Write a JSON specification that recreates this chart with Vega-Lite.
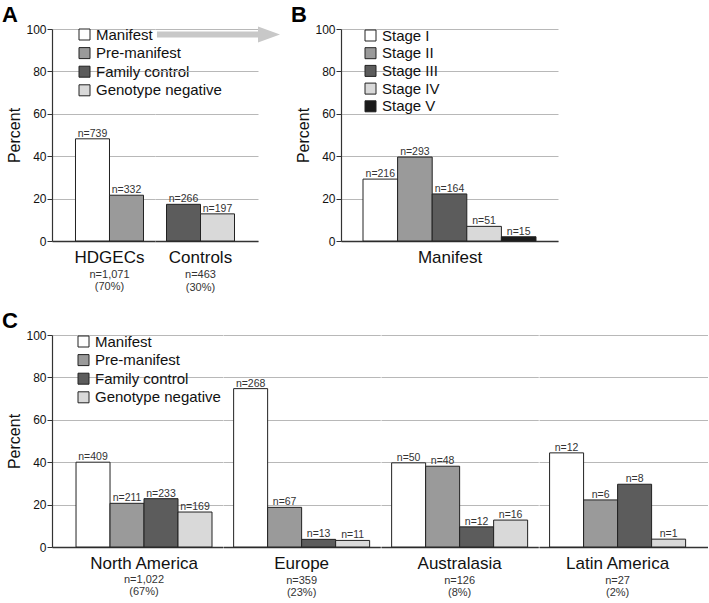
{
  "$schema": "https://vega.github.io/schema/vega-lite/v6.json",
  "padding": {"left": 2, "top": 4, "right": 0, "bottom": 0},
  "background": "white",
  "config": {
    "view": {"stroke": null},
    "font": "Liberation Sans",
    "axisY": {"tickSize": 5, "labelPadding": 1, "labelFontSize": 12, "labelColor": "#111", "titleFontSize": 16, "titleFontWeight": "normal", "titleColor": "#111", "titlePadding": 3, "grid": true, "gridColor": "#b8b8b8", "gridWidth": 1, "domainColor": "#333", "domainWidth": 1.2, "tickColor": "#333"},
    "axisX": {"ticks": false, "labels": false, "labelAngle": 0, "domainColor": "#333", "domainWidth": 1.5, "grid": false, "titleFontSize": 17, "titleFontWeight": "normal", "titleColor": "#111", "titlePadding": 8},
    "legend": {"orient": "none", "padding": 0, "symbolType": "square", "symbolSize": 121, "symbolStrokeColor": "#222", "symbolStrokeWidth": 1, "labelFontSize": 15, "labelColor": "#111", "labelOffset": 4},
    "title": {"fontSize": 22, "fontWeight": "bold", "anchor": "start", "frame": "group", "dx": -50, "offset": -4, "color": "#000"}
  },
  "datasets": {
    "panelA": [
      {"group": "HDGECs", "type": "Manifest", "pct": 48.2, "n": "n=739"},
      {"group": "HDGECs", "type": "Pre-manifest", "pct": 21.6, "n": "n=332"},
      {"group": "Controls", "type": "Family control", "pct": 17.3, "n": "n=266"},
      {"group": "Controls", "type": "Genotype negative", "pct": 12.8, "n": "n=197"}
    ],
    "arrow": [
      {"x0": 0.019, "x1": 1.0, "xh": 1.107, "pct": 97.4}
    ],
    "panelB": [
      {"stage": "Stage I", "pct": 29.2, "n": "n=216"},
      {"stage": "Stage II", "pct": 39.6, "n": "n=293"},
      {"stage": "Stage III", "pct": 22.2, "n": "n=164"},
      {"stage": "Stage IV", "pct": 6.9, "n": "n=51"},
      {"stage": "Stage V", "pct": 2.0, "n": "n=15"}
    ],
    "panelC": [
      {"region": "North America", "type": "Manifest", "pct": 40.0, "n": "n=409"},
      {"region": "North America", "type": "Pre-manifest", "pct": 20.6, "n": "n=211"},
      {"region": "North America", "type": "Family control", "pct": 22.8, "n": "n=233"},
      {"region": "North America", "type": "Genotype negative", "pct": 16.5, "n": "n=169"},
      {"region": "Europe", "type": "Manifest", "pct": 74.7, "n": "n=268"},
      {"region": "Europe", "type": "Pre-manifest", "pct": 18.7, "n": "n=67"},
      {"region": "Europe", "type": "Family control", "pct": 3.6, "n": "n=13"},
      {"region": "Europe", "type": "Genotype negative", "pct": 3.1, "n": "n=11"},
      {"region": "Australasia", "type": "Manifest", "pct": 39.7, "n": "n=50"},
      {"region": "Australasia", "type": "Pre-manifest", "pct": 38.1, "n": "n=48"},
      {"region": "Australasia", "type": "Family control", "pct": 9.5, "n": "n=12"},
      {"region": "Australasia", "type": "Genotype negative", "pct": 12.7, "n": "n=16"},
      {"region": "Latin America", "type": "Manifest", "pct": 44.4, "n": "n=12"},
      {"region": "Latin America", "type": "Pre-manifest", "pct": 22.2, "n": "n=6"},
      {"region": "Latin America", "type": "Family control", "pct": 29.6, "n": "n=8"},
      {"region": "Latin America", "type": "Genotype negative", "pct": 3.7, "n": "n=1"}
    ]
  },
  "spacing": 17,
  "resolve": {"scale": {"color": "independent"}, "legend": {"color": "independent"}},
  "vconcat": [
    {
      "spacing": 10,
      "resolve": {"scale": {"color": "independent"}, "legend": {"color": "independent"}},
      "hconcat": [
        {
          "title": "A",
          "bounds": "flush",
          "spacing": 0,
          "resolve": {"scale": {"color": "independent"}, "legend": {"color": "independent"}},
          "hconcat": [
            {
              "width": 103,
              "height": 212,
              "title": {"text": "HDGECs", "subtitle": ["n=1,071", "(70%)"], "orient": "bottom", "anchor": "middle", "frame": "group", "dx": 6, "offset": 2.5, "fontSize": 17, "fontWeight": "normal", "color": "#111", "subtitleFontSize": 11, "subtitleColor": "#333", "subtitlePadding": 2, "subtitleLineHeight": 12.5},
              "data": {"name": "panelA"},
              "transform": [{"filter": "datum.group == 'HDGECs'"}],
              "layer": [
                {
                  "mark": {"type": "bar", "stroke": "#222", "strokeWidth": 1},
                  "encoding": {
                    "x": {"field": "type", "type": "nominal", "scale": {"type": "band", "domain": ["Manifest", "Pre-manifest"], "paddingInner": 0, "paddingOuter": 0.5147, "align": 0.671}, "axis": {"title": null}},
                    "y": {"field": "pct", "type": "quantitative", "stack": null, "scale": {"domain": [0, 100], "nice": false}, "axis": {"title": "Percent", "values": [0, 10, 20, 30, 40, 50, 60, 70, 80, 90, 100], "labelExpr": "datum.value % 20 == 0 ? datum.label : ''"}},
                    "color": {"field": "type", "type": "nominal", "scale": {"domain": ["Manifest", "Pre-manifest", "Family control", "Genotype negative"], "range": ["#ffffff", "#9a9a9a", "#5c5c5c", "#d9d9d9"]}, "legend": {"title": null, "legendX": 25, "legendY": -2, "rowPadding": 2.6}}
                  }
                },
                {
                  "mark": {"type": "text", "dy": -2, "baseline": "alphabetic", "fontSize": 10.5, "color": "#333"},
                  "encoding": {
                    "x": {"field": "type", "type": "nominal"},
                    "y": {"field": "pct", "type": "quantitative", "stack": null},
                    "text": {"field": "n"}
                  }
                }
              ]
            },
            {
              "width": 103,
              "height": 212,
              "title": {"text": "Controls", "subtitle": ["n=463", "(30%)"], "orient": "bottom", "anchor": "middle", "frame": "group", "dx": -6, "offset": 8.5, "fontSize": 17, "fontWeight": "normal", "color": "#111", "subtitleFontSize": 11, "subtitleColor": "#333", "subtitlePadding": 2, "subtitleLineHeight": 12.5},
              "resolve": {"scale": {"x": "independent"}},
              "layer": [
                {
                  "data": {"name": "panelA"},
                  "transform": [{"filter": "datum.group == 'Controls'"}],
                  "layer": [
                    {
                      "mark": {"type": "bar", "stroke": "#222", "strokeWidth": 1},
                      "encoding": {
                        "x": {"field": "type", "type": "nominal", "scale": {"type": "band", "domain": ["Family control", "Genotype negative"], "paddingInner": 0, "paddingOuter": 0.5147, "align": 0.329}, "axis": {"title": null}},
                        "y": {"field": "pct", "type": "quantitative", "stack": null, "scale": {"domain": [0, 100], "nice": false}, "axis": {"title": null, "labels": false, "ticks": false, "domain": false, "values": [0, 10, 20, 30, 40, 50, 60, 70, 80, 90, 100]}},
                        "color": {"field": "type", "type": "nominal", "scale": {"domain": ["Manifest", "Pre-manifest", "Family control", "Genotype negative"], "range": ["#ffffff", "#9a9a9a", "#5c5c5c", "#d9d9d9"]}, "legend": null}
                      }
                    },
                    {
                      "mark": {"type": "text", "dy": -2, "baseline": "alphabetic", "fontSize": 10.5, "color": "#333"},
                      "encoding": {
                        "x": {"field": "type", "type": "nominal"},
                        "y": {"field": "pct", "type": "quantitative", "stack": null, "title": null},
                        "text": {"field": "n"}
                      }
                    }
                  ]
                },
                {
                  "data": {"name": "arrow"},
                  "layer": [
                    {
                      "mark": {"type": "rule", "color": "#c8c8c8", "strokeWidth": 6, "strokeCap": "butt"},
                      "encoding": {
                        "x": {"field": "x0", "type": "quantitative", "scale": {"domain": [0, 1], "nice": false, "zero": false}, "axis": null},
                        "x2": {"field": "x1"},
                        "y": {"field": "pct", "type": "quantitative", "title": null}
                      }
                    },
                    {
                      "mark": {"type": "point", "shape": "M-1,-0.73L1,0L-1,0.73Z", "filled": true, "color": "#c8c8c8", "opacity": 1, "size": 484},
                      "encoding": {
                        "x": {"field": "xh", "type": "quantitative"},
                        "y": {"field": "pct", "type": "quantitative", "title": null}
                      }
                    }
                  ]
                }
              ]
            }
          ]
        },
        {
          "title": "B",
          "width": 217,
          "height": 212,
          "data": {"name": "panelB"},
          "layer": [
            {
              "mark": {"type": "bar", "stroke": "#222", "strokeWidth": 1},
              "encoding": {
                "x": {"field": "stage", "type": "nominal", "scale": {"type": "band", "domain": ["Stage I", "Stage II", "Stage III", "Stage IV", "Stage V"], "paddingInner": 0, "paddingOuter": 0.636, "align": 0.5}, "axis": {"title": "Manifest"}},
                "y": {"field": "pct", "type": "quantitative", "stack": null, "scale": {"domain": [0, 100], "nice": false}, "axis": {"title": "Percent", "values": [0, 10, 20, 30, 40, 50, 60, 70, 80, 90, 100], "labelExpr": "datum.value % 20 == 0 ? datum.label : ''"}},
                "color": {"field": "stage", "type": "nominal", "scale": {"domain": ["Stage I", "Stage II", "Stage III", "Stage IV", "Stage V"], "range": ["#ffffff", "#9a9a9a", "#5c5c5c", "#d9d9d9", "#1a1a1a"]}, "legend": {"title": null, "legendX": 22, "legendY": -1, "rowPadding": 1.7}}
              }
            },
            {
              "mark": {"type": "text", "dy": -2, "baseline": "alphabetic", "fontSize": 10.5, "color": "#333"},
              "encoding": {
                "x": {"field": "stage", "type": "nominal"},
                "y": {"field": "pct", "type": "quantitative", "stack": null},
                "text": {"field": "n"}
              }
            }
          ]
        }
      ]
    },
    {
      "title": "C",
      "bounds": "flush",
      "spacing": 0,
      "resolve": {"scale": {"color": "independent"}, "legend": {"color": "independent"}},
      "hconcat": [
        {
          "width": 170.6,
          "height": 212,
          "title": {"text": "North America", "subtitle": ["n=1,022", "(67%)"], "orient": "bottom", "anchor": "middle", "frame": "group", "dx": 6.7, "offset": 2.5, "fontSize": 17, "fontWeight": "normal", "color": "#111", "subtitleFontSize": 11, "subtitleColor": "#333", "subtitlePadding": 1.5, "subtitleLineHeight": 12},
          "data": {"name": "panelC"},
          "transform": [{"filter": "datum.region == 'North America'"}],
          "layer": [
            {
              "mark": {"type": "bar", "stroke": "#222", "strokeWidth": 1},
              "encoding": {
                "x": {"field": "type", "type": "nominal", "scale": {"type": "band", "domain": ["Manifest", "Pre-manifest", "Family control", "Genotype negative"], "paddingInner": 0, "paddingOuter": 0.509, "align": 0.694}, "axis": {"title": null}},
                "y": {"field": "pct", "type": "quantitative", "stack": null, "scale": {"domain": [0, 100], "nice": false}, "axis": {"title": "Percent", "values": [0, 10, 20, 30, 40, 50, 60, 70, 80, 90, 100], "labelExpr": "datum.value % 20 == 0 ? datum.label : ''"}},
                "color": {"field": "type", "type": "nominal", "scale": {"domain": ["Manifest", "Pre-manifest", "Family control", "Genotype negative"], "range": ["#ffffff", "#9a9a9a", "#5c5c5c", "#d9d9d9"]}, "legend": {"title": null, "legendX": 24, "legendY": -1, "rowPadding": 2.6}}
              }
            },
            {
              "mark": {"type": "text", "dy": -2, "baseline": "alphabetic", "fontSize": 10.5, "color": "#333"},
              "encoding": {
                "x": {"field": "type", "type": "nominal"},
                "y": {"field": "pct", "type": "quantitative", "stack": null},
                "text": {"field": "n"}
              }
            }
          ]
        },
        {
          "width": 157.25,
          "height": 212,
          "title": {"text": "Europe", "subtitle": ["n=359", "(23%)"], "orient": "bottom", "anchor": "middle", "frame": "group", "dx": 0, "offset": 8.5, "fontSize": 17, "fontWeight": "normal", "color": "#111", "subtitleFontSize": 11, "subtitleColor": "#333", "subtitlePadding": 1.5, "subtitleLineHeight": 12},
          "data": {"name": "panelC"},
          "transform": [{"filter": "datum.region == 'Europe'"}],
          "layer": [
            {
              "mark": {"type": "bar", "stroke": "#222", "strokeWidth": 1},
              "encoding": {
                "x": {"field": "type", "type": "nominal", "scale": {"type": "band", "domain": ["Manifest", "Pre-manifest", "Family control", "Genotype negative"], "paddingInner": 0, "paddingOuter": 0.3125, "align": 0.5}, "axis": {"title": null}},
                "y": {"field": "pct", "type": "quantitative", "stack": null, "scale": {"domain": [0, 100], "nice": false}, "axis": {"title": null, "labels": false, "ticks": false, "domain": false, "values": [0, 10, 20, 30, 40, 50, 60, 70, 80, 90, 100]}},
                "color": {"field": "type", "type": "nominal", "scale": {"domain": ["Manifest", "Pre-manifest", "Family control", "Genotype negative"], "range": ["#ffffff", "#9a9a9a", "#5c5c5c", "#d9d9d9"]}, "legend": null}
              }
            },
            {
              "mark": {"type": "text", "dy": -2, "baseline": "alphabetic", "fontSize": 10.5, "color": "#333"},
              "encoding": {
                "x": {"field": "type", "type": "nominal"},
                "y": {"field": "pct", "type": "quantitative", "stack": null},
                "text": {"field": "n"}
              }
            }
          ]
        },
        {
          "width": 157.25,
          "height": 212,
          "title": {"text": "Australasia", "subtitle": ["n=126", "(8%)"], "orient": "bottom", "anchor": "middle", "frame": "group", "dx": 0, "offset": 8.5, "fontSize": 17, "fontWeight": "normal", "color": "#111", "subtitleFontSize": 11, "subtitleColor": "#333", "subtitlePadding": 1.5, "subtitleLineHeight": 12},
          "data": {"name": "panelC"},
          "transform": [{"filter": "datum.region == 'Australasia'"}],
          "layer": [
            {
              "mark": {"type": "bar", "stroke": "#222", "strokeWidth": 1},
              "encoding": {
                "x": {"field": "type", "type": "nominal", "scale": {"type": "band", "domain": ["Manifest", "Pre-manifest", "Family control", "Genotype negative"], "paddingInner": 0, "paddingOuter": 0.3125, "align": 0.5}, "axis": {"title": null}},
                "y": {"field": "pct", "type": "quantitative", "stack": null, "scale": {"domain": [0, 100], "nice": false}, "axis": {"title": null, "labels": false, "ticks": false, "domain": false, "values": [0, 10, 20, 30, 40, 50, 60, 70, 80, 90, 100]}},
                "color": {"field": "type", "type": "nominal", "scale": {"domain": ["Manifest", "Pre-manifest", "Family control", "Genotype negative"], "range": ["#ffffff", "#9a9a9a", "#5c5c5c", "#d9d9d9"]}, "legend": null}
              }
            },
            {
              "mark": {"type": "text", "dy": -2, "baseline": "alphabetic", "fontSize": 10.5, "color": "#333"},
              "encoding": {
                "x": {"field": "type", "type": "nominal"},
                "y": {"field": "pct", "type": "quantitative", "stack": null},
                "text": {"field": "n"}
              }
            }
          ]
        },
        {
          "width": 168.6,
          "height": 212,
          "title": {"text": "Latin America", "subtitle": ["n=27", "(2%)"], "orient": "bottom", "anchor": "middle", "frame": "group", "dx": -5.7, "offset": 8.5, "fontSize": 17, "fontWeight": "normal", "color": "#111", "subtitleFontSize": 11, "subtitleColor": "#333", "subtitlePadding": 1.5, "subtitleLineHeight": 12},
          "data": {"name": "panelC"},
          "transform": [{"filter": "datum.region == 'Latin America'"}],
          "layer": [
            {
              "mark": {"type": "bar", "stroke": "#222", "strokeWidth": 1},
              "encoding": {
                "x": {"field": "type", "type": "nominal", "scale": {"type": "band", "domain": ["Manifest", "Pre-manifest", "Family control", "Genotype negative"], "paddingInner": 0, "paddingOuter": 0.479, "align": 0.325}, "axis": {"title": null}},
                "y": {"field": "pct", "type": "quantitative", "stack": null, "scale": {"domain": [0, 100], "nice": false}, "axis": {"title": null, "labels": false, "ticks": false, "domain": false, "values": [0, 10, 20, 30, 40, 50, 60, 70, 80, 90, 100]}},
                "color": {"field": "type", "type": "nominal", "scale": {"domain": ["Manifest", "Pre-manifest", "Family control", "Genotype negative"], "range": ["#ffffff", "#9a9a9a", "#5c5c5c", "#d9d9d9"]}, "legend": null}
              }
            },
            {
              "mark": {"type": "text", "dy": -2, "baseline": "alphabetic", "fontSize": 10.5, "color": "#333"},
              "encoding": {
                "x": {"field": "type", "type": "nominal"},
                "y": {"field": "pct", "type": "quantitative", "stack": null},
                "text": {"field": "n"}
              }
            }
          ]
        }
      ]
    }
  ]
}
